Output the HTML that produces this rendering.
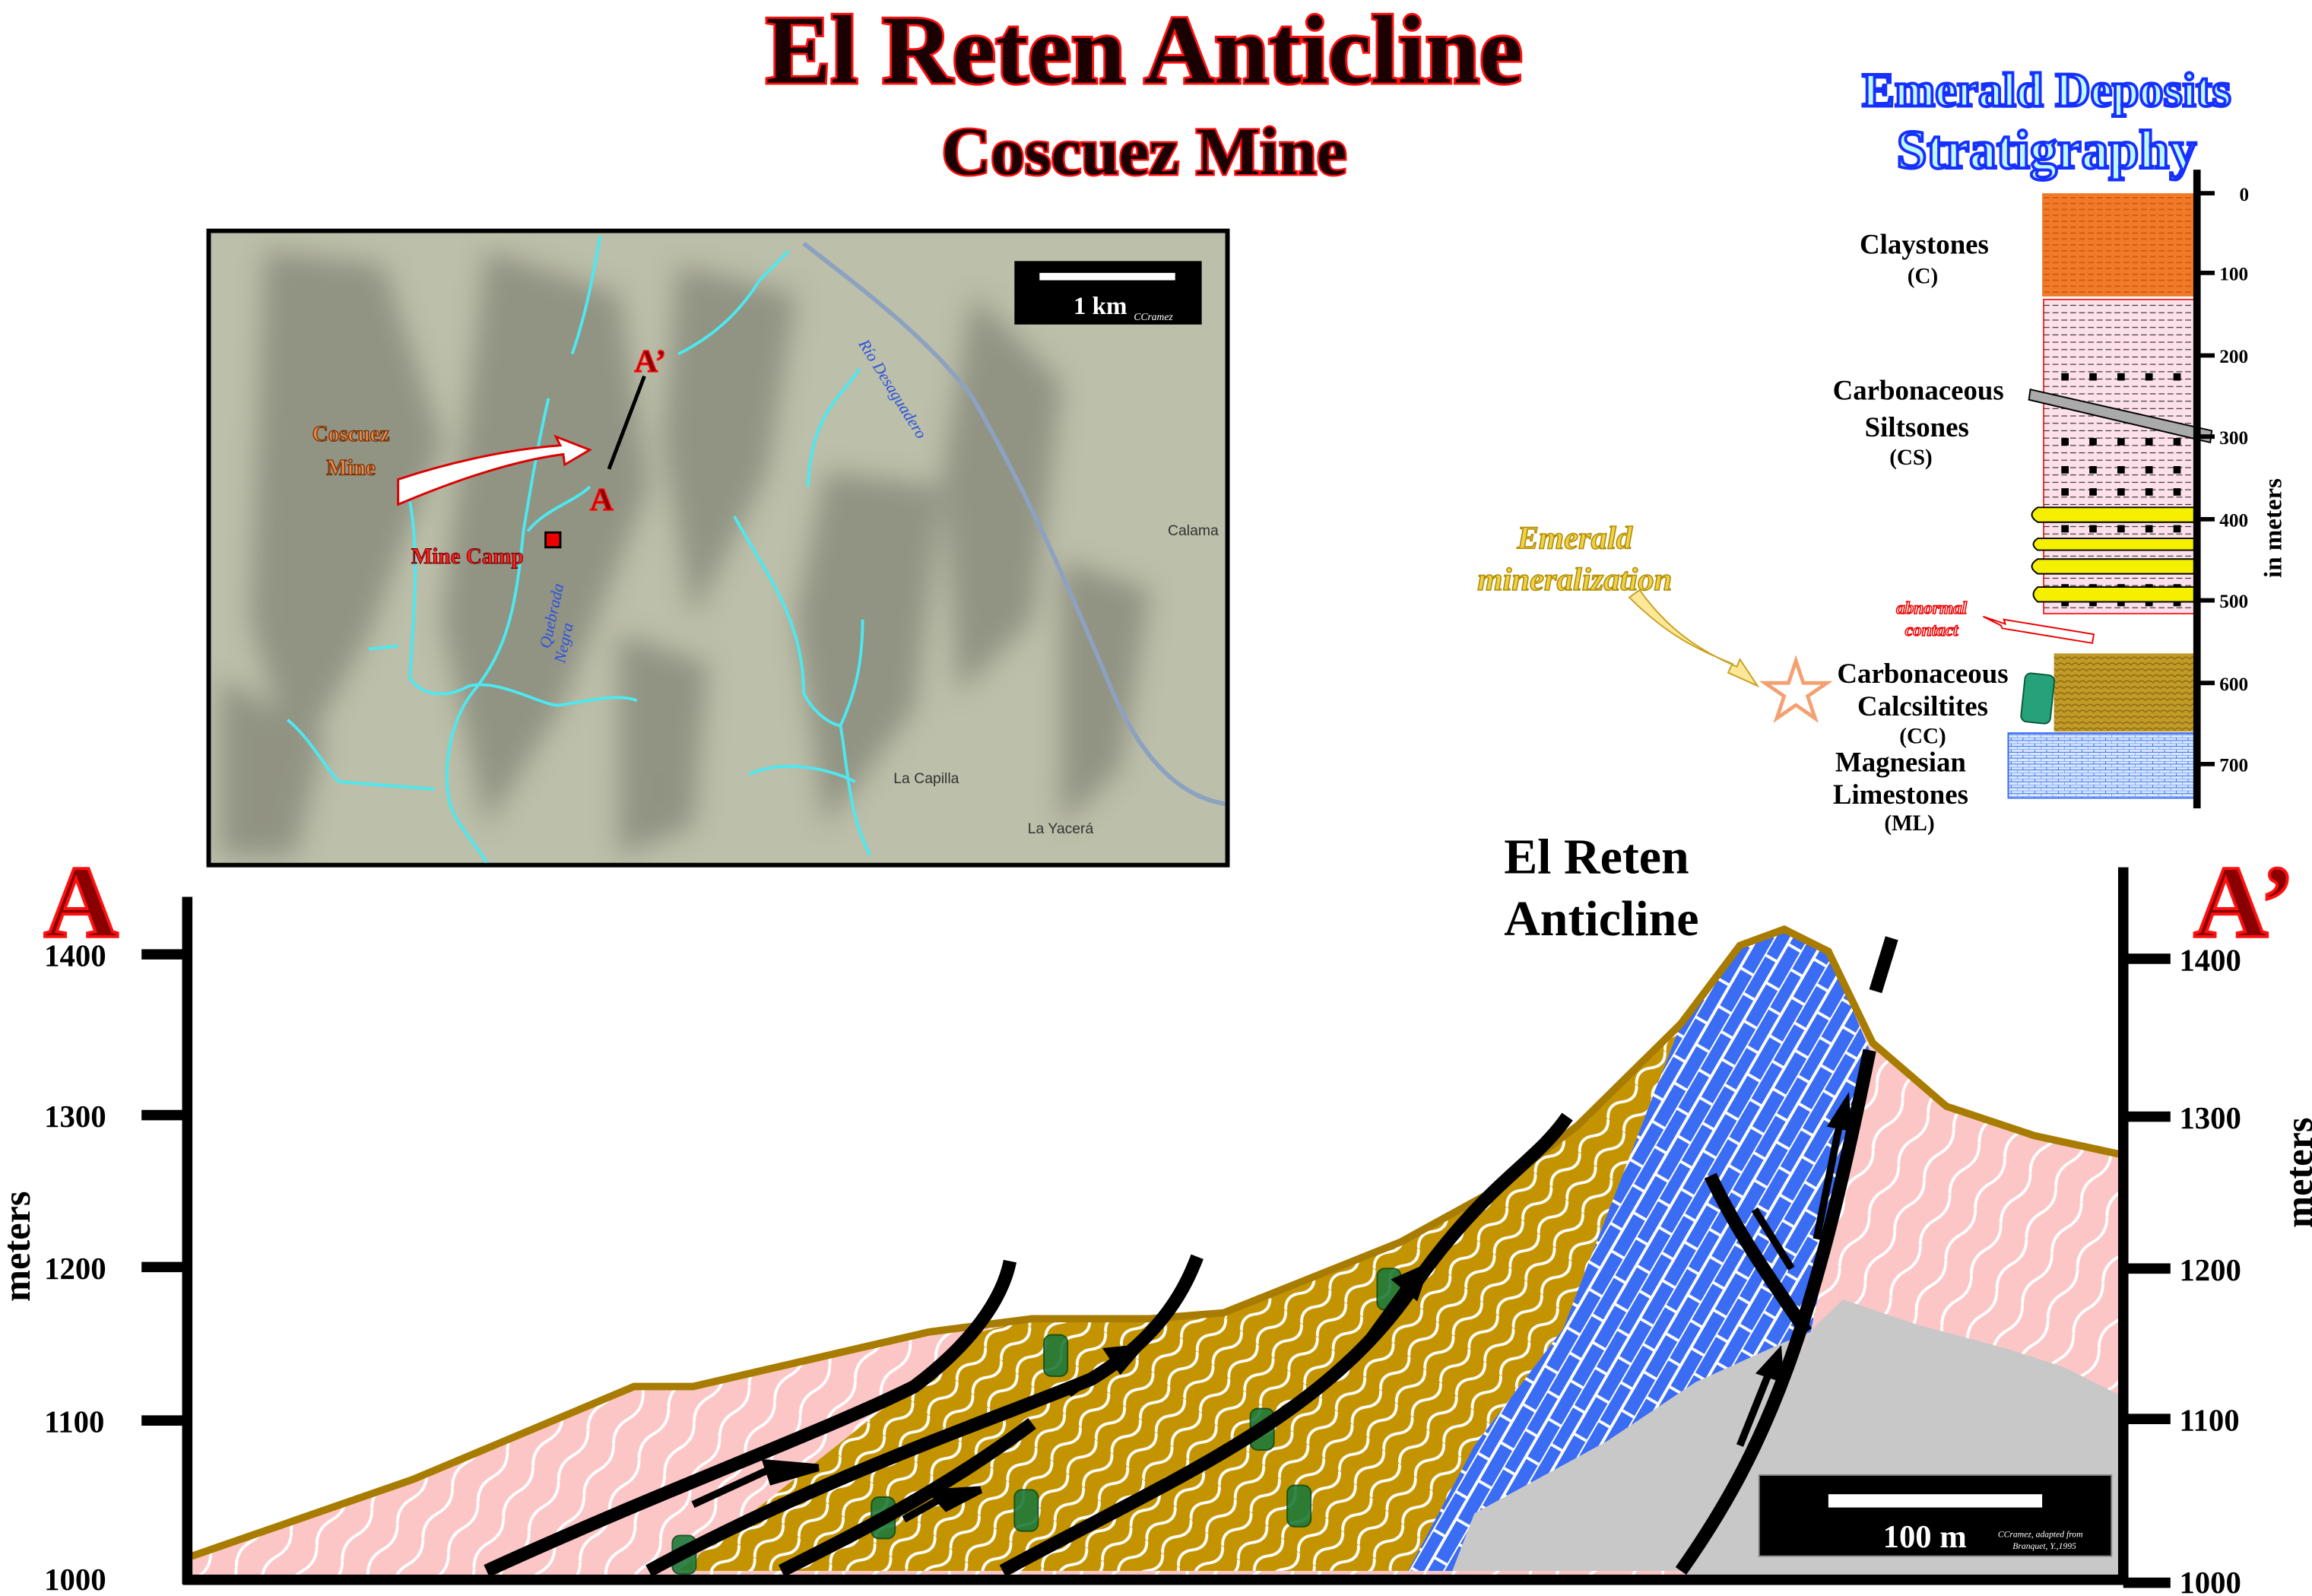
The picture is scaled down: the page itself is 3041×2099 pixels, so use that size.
<!DOCTYPE html>
<html><head><meta charset="utf-8"><style>html,body{margin:0;padding:0;background:#fff}svg{display:block}</style></head>
<body>
<svg width="3041" height="2099" viewBox="0 0 1568 1082" preserveAspectRatio="none" xmlns="http://www.w3.org/2000/svg" font-family="Liberation Serif, serif">
<defs>
<pattern id="pk" width="40" height="20" patternUnits="userSpaceOnUse" patternTransform="rotate(-60)">
<rect width="40" height="20" fill="#fcc6c6"/><path d="M0 10 Q10 4 20 10 T40 10" stroke="#fff" stroke-width="2" fill="none"/></pattern>
<pattern id="gd" width="30" height="14" patternUnits="userSpaceOnUse" patternTransform="rotate(-50)">
<rect width="30" height="14" fill="#c49400"/><path d="M0 7 Q7.5 0 15 7 T30 7" stroke="#fff" stroke-width="2" fill="none"/></pattern>
<pattern id="bl" width="30" height="20" patternUnits="userSpaceOnUse" patternTransform="rotate(-60)">
<rect width="30" height="20" fill="#3a6cf4"/><path d="M0 0H30M0 10H30M8 0V10M22 10V20" stroke="#fff" stroke-width="2" fill="none"/></pattern>
<pattern id="cl" width="6" height="4" patternUnits="userSpaceOnUse"><rect width="6" height="4" fill="#f07a2a"/><path d="M0 2H4" stroke="#d85a10" stroke-width="1"/></pattern>
<pattern id="cs" width="6" height="5" patternUnits="userSpaceOnUse"><rect width="6" height="5" fill="#fde0ea"/><path d="M0 2H4" stroke="#333" stroke-width=".6"/></pattern>
<pattern id="cc" width="5" height="4" patternUnits="userSpaceOnUse"><rect width="5" height="4" fill="#c29a28"/><path d="M0 3Q2.5 0 5 3" stroke="#8a6a10" stroke-width=".7" fill="none"/></pattern>
<pattern id="ml" width="8" height="4" patternUnits="userSpaceOnUse"><rect width="8" height="4" fill="#d8e8fc"/><path d="M0 0H8M4 0V2M0 2H8M0 2V4" stroke="#3a6cf4" stroke-width=".5"/></pattern>
<filter id="bl3"><feGaussianBlur stdDeviation="9"/></filter>
<clipPath id="mapc"><rect x="143" y="158" width="688" height="427"/></clipPath>
</defs>

<!-- Titles -->
<text x="776" y="56" text-anchor="middle" font-size="66" font-weight="bold" fill="#1a0000" stroke="#ff1010" stroke-width="3" paint-order="stroke">El Reten Anticline</text>
<text x="776" y="118" text-anchor="middle" font-size="46" font-weight="bold" fill="#1a0000" stroke="#ff1010" stroke-width="2.5" paint-order="stroke">Coscuez Mine</text>

<!-- Map -->
<rect x="140" y="155" width="694" height="433" fill="#000"/>
<g clip-path="url(#mapc)">
<rect x="143" y="158" width="688" height="427" fill="#bcbfa9"/>
<g filter="url(#bl3)" fill="#75766a" opacity=".6">
<path d="M180 170 L260 180 L300 300 L250 430 L200 520 L170 420 Z"/>
<path d="M330 170 L420 200 L440 330 L380 480 L330 560 L300 420 Z"/>
<path d="M460 180 L540 200 L520 320 L470 420 L450 300Z"/>
<path d="M560 320 L640 330 L620 480 L560 560 L540 420Z"/>
<path d="M660 200 L720 260 L700 420 L650 470 L640 320Z"/>
<path d="M720 380 L780 400 L760 520 L720 560Z"/>
<path d="M150 460 L220 500 L200 580 L150 580Z"/>
<path d="M420 430 L480 450 L470 560 L420 580Z"/>
</g>
<path d="M545 165 C590 200 630 230 660 270 C700 340 730 410 755 470 C775 515 800 540 831 545" fill="none" stroke="#8da2c0" stroke-width="3"/>
<g stroke="#4de8f0" stroke-width="2" fill="none">
<path d="M407 160 C400 200 395 220 388 240"/>
<path d="M460 240 C480 230 500 215 515 190 L535 170"/>
<path d="M372 270 C365 300 360 330 355 360 C350 410 345 440 320 470 C305 490 300 520 305 545 C310 560 325 575 330 585"/>
<path d="M278 340 C285 380 280 420 278 460 C285 470 300 475 318 465 C340 460 370 480 380 478 C400 475 420 470 432 475"/>
<path d="M250 440 L270 438"/><path d="M195 488 C210 500 220 520 230 530 L295 535"/>
<path d="M400 330 C390 340 370 345 358 360"/>
<path d="M583 250 C570 270 550 280 548 330"/>
<path d="M498 350 C520 390 545 420 545 470 C550 480 560 490 570 492 C575 520 575 550 590 580"/>
<path d="M585 420 C585 450 580 470 570 492"/><path d="M508 525 C530 515 560 520 580 530"/>
</g>
<text x="238" y="299" text-anchor="middle" font-size="15" font-weight="bold" fill="#e88a50" stroke="#7a3000" stroke-width=".7">Coscuez</text>
<text x="238" y="322" text-anchor="middle" font-size="15" font-weight="bold" fill="#e88a50" stroke="#7a3000" stroke-width=".7">Mine</text>
<path d="M270 325 L270 342 C310 325 350 312 382 308 L383 315 L400 305 L377 296 L380 302 C340 305 300 315 270 325Z" fill="#fff" stroke="#d00" stroke-width="1.5"/>
<line x1="413" y1="318" x2="437" y2="255" stroke="#000" stroke-width="2.5"/>
<text x="441" y="252" text-anchor="middle" font-size="22" font-weight="bold" fill="#8a0000" stroke="#ff1010" stroke-width=".8">A’</text>
<text x="408" y="346" text-anchor="middle" font-size="22" font-weight="bold" fill="#8a0000" stroke="#ff1010" stroke-width=".8">A</text>
<rect x="370" y="361" width="10" height="10" fill="#e00" stroke="#000" stroke-width="1.5"/>
<text x="317" y="382" text-anchor="middle" font-size="15" font-weight="bold" fill="#ff2020" stroke="#600" stroke-width=".5">Mine Camp</text>
<text x="373" y="440" font-size="11" font-style="italic" fill="#2a50e0" transform="rotate(-78 373 440)">Quebrada</text>
<text x="383" y="450" font-size="11" font-style="italic" fill="#2a50e0" transform="rotate(-78 383 450)">Negra</text>
<text x="582" y="233" font-size="11" font-style="italic" fill="#2a50e0" transform="rotate(58 582 233)">Río Desaguadero</text>
<text x="792" y="363" font-size="10" fill="#333" font-family="Liberation Sans, sans-serif">Calama</text>
<text x="606" y="531" font-size="10" fill="#333" font-family="Liberation Sans, sans-serif">La Capilla</text>
<text x="697" y="565" font-size="10" fill="#333" font-family="Liberation Sans, sans-serif">La Yacerá</text>
<rect x="688" y="177" width="127" height="43" fill="#000"/>
<rect x="705" y="185" width="92" height="5" fill="#fff"/>
<text x="728" y="213" font-size="17" font-weight="bold" fill="#fff">1 km</text>
<text x="769" y="217" font-size="7" font-style="italic" fill="#fff">CCramez</text>
</g>

<!-- Stratigraphy -->
<text x="1388" y="72" text-anchor="middle" font-size="33" font-weight="bold" fill="#bff8ff" stroke="#1530ff" stroke-width="2">Emerald Deposits</text>
<text x="1388" y="114" text-anchor="middle" font-size="37" font-weight="bold" fill="#bff8ff" stroke="#1530ff" stroke-width="2">Stratigraphy</text>
<rect x="1385" y="131" width="103" height="70" fill="url(#cl)"/>
<rect x="1386" y="203" width="102" height="213" fill="url(#cs)" stroke="#e00" stroke-width=".8"/>
<g fill="#000">
<g id="dots"><rect x="1398" y="253" width="5" height="5"/><rect x="1417" y="253" width="5" height="5"/><rect x="1436" y="253" width="5" height="5"/><rect x="1455" y="253" width="5" height="5"/><rect x="1474" y="253" width="5" height="5"/></g>
<use href="#dots" y="44"/><use href="#dots" y="63"/><use href="#dots" y="78"/><use href="#dots" y="103"/><use href="#dots" y="143"/><use href="#dots" y="153"/>
</g>
<g fill="#f4f000" stroke="#000" stroke-width="1">
<path d="M1488 344 H1382 Q1374 349 1382 354 H1488Z"/><path d="M1488 379 H1382 Q1374 384 1382 389 H1488Z"/>
<path d="M1488 363 H1382 Q1376 367 1382 371 H1488Z" transform="translate(0 2)"/><path d="M1488 398 H1382 Q1376 403 1382 408 H1488Z"/>
</g>
<path d="M1377 264 L1500 292 L1499 300 L1376 271Z" fill="#aaa" stroke="#000"/>
<rect x="1393" y="443" width="95" height="53" fill="url(#cc)"/>
<rect x="1362" y="497" width="126" height="44" fill="url(#ml)" stroke="#3a6cf4" stroke-width="1"/>
<rect x="1372" y="457" width="20" height="33" rx="4" fill="#25a27a" stroke="#0a5a3a" transform="rotate(6 1382 473)"/>
<line x1="1490" y1="115" x2="1490" y2="548" stroke="#000" stroke-width="5"/>
<g stroke="#000" stroke-width="3"><line x1="1490" y1="131" x2="1502" y2="131"/><line x1="1490" y1="185" x2="1502" y2="185"/><line x1="1490" y1="241" x2="1502" y2="241"/><line x1="1490" y1="296" x2="1502" y2="296"/><line x1="1490" y1="352" x2="1502" y2="352"/><line x1="1490" y1="407" x2="1502" y2="407"/><line x1="1490" y1="463" x2="1502" y2="463"/><line x1="1490" y1="518" x2="1502" y2="518"/></g>
<g font-size="13" font-weight="bold" text-anchor="middle"><text x="1522" y="136">0</text><text x="1515" y="190">100</text><text x="1515" y="246">200</text><text x="1515" y="301">300</text><text x="1515" y="357">400</text><text x="1515" y="412">500</text><text x="1515" y="468">600</text><text x="1515" y="523">700</text></g>
<text x="1547" y="358" text-anchor="middle" font-size="17" font-weight="bold" transform="rotate(-90 1547 358)">in meters</text>
<g font-size="19" font-weight="bold" text-anchor="middle"><text x="1305" y="172">Claystones</text><text x="1300" y="296">Siltsones</text><text x="1301" y="271">Carbonaceous</text><text x="1304" y="463">Carbonaceous</text><text x="1304" y="485">Calcsiltites</text><text x="1289" y="523">Magnesian</text><text x="1289" y="545">Limestones</text></g>
<g font-size="15" font-weight="bold" text-anchor="middle"><text x="1304" y="192">(C)</text><text x="1296" y="315">(CS)</text><text x="1304" y="504">(CC)</text><text x="1295" y="563">(ML)</text></g>
<text x="1068" y="372" text-anchor="middle" font-size="22" font-style="italic" font-weight="bold" fill="#f0d24a" stroke="#b08a00" stroke-width=".8">Emerald</text>
<text x="1068" y="400" text-anchor="middle" font-size="22" font-style="italic" font-weight="bold" fill="#f0d24a" stroke="#b08a00" stroke-width=".8">mineralization</text>
<path d="M1105 405 C1130 430 1150 440 1175 450 L1172 456 L1192 465 L1180 447 L1178 452 C1150 440 1130 425 1112 400Z" fill="#fde89a" stroke="#c9a020"/>
<path d="M1218 448 L1223 463 L1239 463 L1226 472 L1231 487 L1218 478 L1205 487 L1210 472 L1197 463 L1213 463Z" fill="#fff" stroke="#f4a070" stroke-width="2.5"/>
<text x="1310" y="416" text-anchor="middle" font-size="12" font-style="italic" font-weight="bold" fill="#fff" stroke="#e00" stroke-width=".8">abnormal</text>
<text x="1310" y="431" text-anchor="middle" font-size="12" font-style="italic" font-weight="bold" fill="#fff" stroke="#e00" stroke-width=".8">contact</text>
<path d="M1345 418 L1360 423 L1359 420 L1420 430 L1419 436 L1358 426 L1357 424Z" fill="#fff" stroke="#e00"/>

<!-- Cross section -->
<path d="M130 1055 L280 1003 L430 940 L470 940 L630 903 L700 894 L780 894 L830 890 L950 842 L1010 809 L1070 763 L1140 694 L1180 641 L1210 630 L1240 645 L1270 707 L1320 750 L1380 770 L1440 783 L1440 1070 L130 1070Z" fill="url(#pk)"/>
<path d="M665 903 L700 894 L780 894 L830 890 L950 842 L1010 809 L1070 763 L1140 694 L1060 901 L1000 980 L960 1065 L460 1065 Z" fill="url(#gd)"/>
<path d="M1140 694 L1180 641 L1210 630 L1240 645 L1268 712 L1228 903 L1210 910 L1150 937 L1090 977 L1000 1026 L985 1065 L955 1065 L1000 980 L1060 901Z" fill="url(#bl)"/>
<path d="M1228 903 L1210 910 L1150 937 L1090 977 L1000 1026 L985 1065 L1140 1065 Z" fill="#c8c8c8"/>
<path d="M1250 881 L1300 898 L1360 914 L1400 927 L1440 947 L1440 1070 L1140 1070 L1230 900Z" fill="#c8c8c8"/>
<path d="M130 1055 L280 1003 L430 940 L470 940 L630 903 L700 894 L780 894 L830 890 L950 842 L1010 809 L1070 763 L1140 694 L1180 641 L1210 630 L1240 645 L1270 707 L1320 750 L1380 770 L1440 783" fill="none" stroke="#a87c00" stroke-width="5"/>
<g fill="#1e7a3a" stroke="#0a4a1a" opacity=".9"><rect x="708" y="905" width="16" height="28" rx="5"/><rect x="934" y="860" width="16" height="28" rx="5"/><rect x="848" y="955" width="16" height="28" rx="5"/><rect x="591" y="1015" width="16" height="28" rx="5"/><rect x="688" y="1010" width="16" height="28" rx="5"/><rect x="873" y="1007" width="16" height="28" rx="5"/><rect x="456" y="1041" width="16" height="26" rx="5"/></g>
<g stroke="#000" stroke-width="9" fill="none" stroke-linecap="butt">
<path d="M330 1065 C450 1010 560 970 620 940 C660 910 680 880 685 855"/>
<path d="M440 1065 C560 1000 680 960 740 935 C790 905 805 870 812 852"/>
<path d="M680 1065 C800 1000 900 960 960 870 C1010 800 1040 790 1063 757"/>
<path d="M530 1065 C580 1040 640 1010 700 965"/>
<path d="M1140 1065 C1200 980 1230 900 1268 712"/>
<path d="M1160 797 C1180 840 1210 880 1225 903"/>
<path d="M1272 672 L1283 636"/>
</g>
<g stroke="#000" stroke-width="5" fill="#000">
<path d="M470 1020 L520 997" fill="none"/><path d="M520 992 L555 995 L524 1004Z"/>
<path d="M613 1030 L640 1015" fill="none"/><path d="M633 1012 L665 1010 L642 1022Z"/>
<path d="M725 945 L760 920" fill="none"/><path d="M752 916 L772 914 L760 928Z"/>
<path d="M915 925 L955 870" fill="none"/><path d="M948 868 L966 860 L960 878Z"/>
<path d="M1180 980 L1200 930" fill="none"/><path d="M1195 930 L1206 918 L1207 934Z"/>
<path d="M1232 840 L1248 760" fill="none"/><path d="M1243 762 L1252 748 L1253 764Z"/>
<path d="M1215 860 L1190 820" fill="none"/>
</g>
<line x1="127" y1="608" x2="127" y2="1074" stroke="#000" stroke-width="7"/>
<line x1="124" y1="1071" x2="1443" y2="1071" stroke="#000" stroke-width="7"/>
<line x1="1440" y1="588" x2="1440" y2="1074" stroke="#000" stroke-width="7"/>
<g stroke="#000" stroke-width="7"><line x1="96" y1="647" x2="127" y2="647"/><line x1="96" y1="756" x2="127" y2="756"/><line x1="96" y1="859" x2="127" y2="859"/><line x1="96" y1="963" x2="127" y2="963"/><line x1="1440" y1="650" x2="1472" y2="650"/><line x1="1440" y1="757" x2="1472" y2="757"/><line x1="1440" y1="860" x2="1472" y2="860"/><line x1="1440" y1="962" x2="1472" y2="962"/><line x1="1440" y1="1073" x2="1472" y2="1073"/></g>
<g font-size="21" font-weight="bold"><text x="30" y="655">1400</text><text x="30" y="764">1300</text><text x="30" y="867">1200</text><text x="30" y="971">1100</text><text x="30" y="1078">1000</text>
<text x="1478" y="658">1400</text><text x="1478" y="765">1300</text><text x="1478" y="868">1200</text><text x="1478" y="970">1100</text><text x="1478" y="1080">1000</text></g>
<text x="20" y="845" text-anchor="middle" font-size="26" font-weight="bold" transform="rotate(-90 20 845)">meters</text>
<text x="1568" y="795" text-anchor="middle" font-size="26" font-weight="bold" transform="rotate(-90 1568 795)">meters</text>
<text x="55" y="635" text-anchor="middle" font-size="70" font-weight="bold" fill="#8a0000" stroke="#ff1010" stroke-width="2">A</text>
<text x="1522" y="635" text-anchor="middle" font-size="70" font-weight="bold" fill="#8a0000" stroke="#ff1010" stroke-width="2">A’</text>
<text x="1020" y="592" font-size="34" font-weight="bold">El Reten</text>
<text x="1020" y="634" font-size="34" font-weight="bold">Anticline</text>
<rect x="1193" y="1000" width="239" height="55" fill="#000" stroke="#888"/>
<rect x="1240" y="1013" width="145" height="9" fill="#fff"/>
<text x="1277" y="1049" font-size="22" font-weight="bold" fill="#fff">100 m</text>
<text x="1355" y="1042" font-size="6" font-style="italic" fill="#fff">CCramez, adapted from</text>
<text x="1365" y="1050" font-size="6" font-style="italic" fill="#fff">Branquet, Y.,1995</text>
</svg>
</body></html>
